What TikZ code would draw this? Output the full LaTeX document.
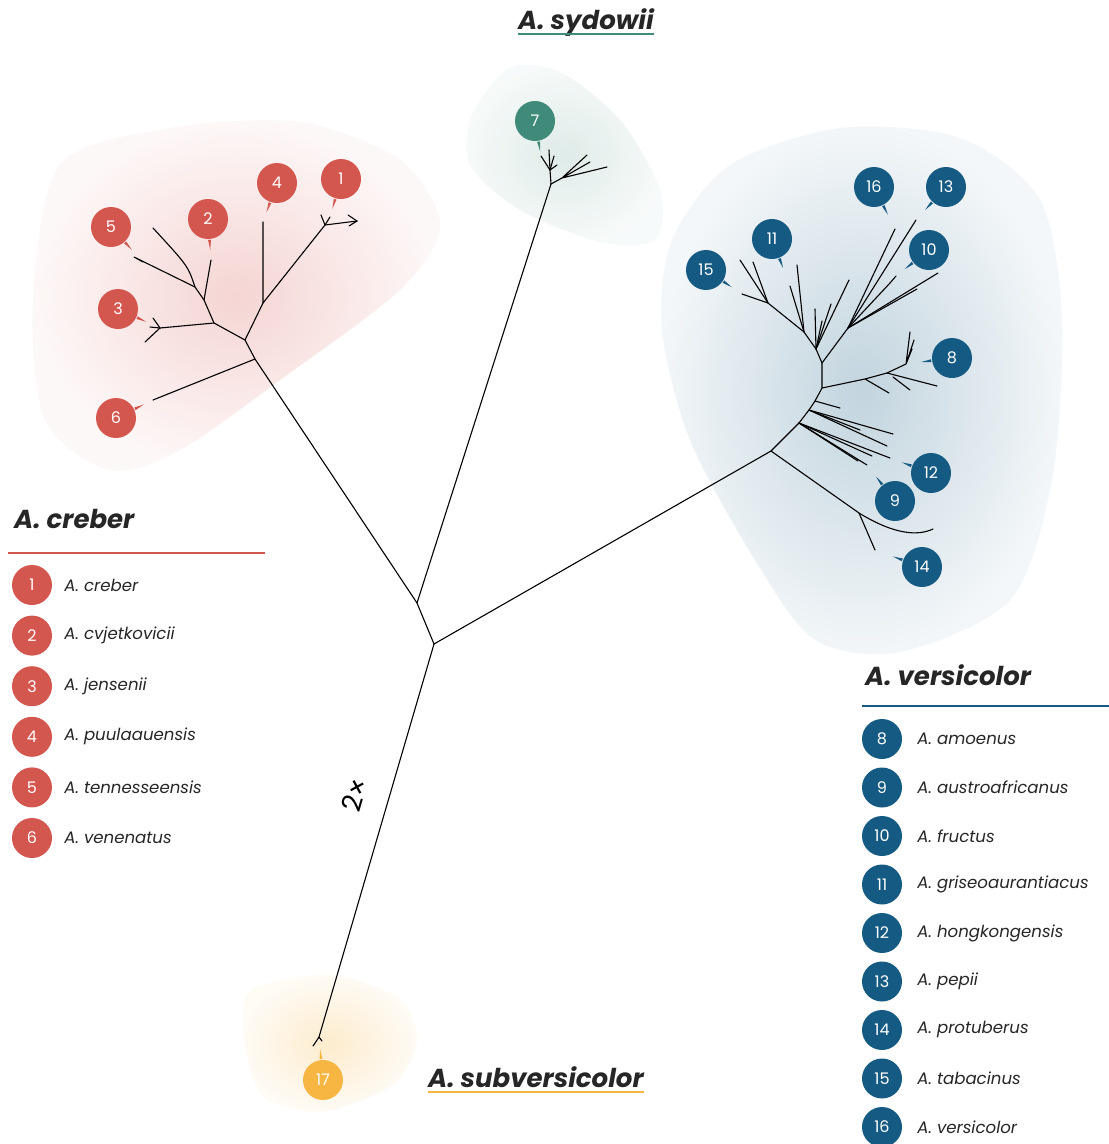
\documentclass[tikz,border=0pt]{standalone}
\usepackage{fontspec}
\setmainfont{Poppins}
\usetikzlibrary{shapes,arrows,positioning,calc}
\definecolor{crebred}{HTML}{D4574F}
\definecolor{sydgreen}{HTML}{3F8A78}
\definecolor{versblue}{HTML}{155A82}
\definecolor{subyellow}{HTML}{F7B541}
\definecolor{textgray}{HTML}{262626}
\tikzstyle{taxon} = [circle, text=white, minimum size=40pt, inner sep=0pt,
    font=\fontsize{16}{16}\selectfont]
\tikzstyle{legtext} = [text=textgray, inner sep=0pt,
    font=\fontsize{16.6}{17}\selectfont\itshape]
\tikzstyle{title} = [text=textgray, inner sep=0pt, anchor=base west,
    font=\fontsize{26}{26}\selectfont\bfseries\itshape]
\tikzstyle{branch} = [draw, line width=1.1pt, line cap=round, line join=round]
\tikzstyle{rule} = [draw, line width=2.2pt]
\newcommand{\leaftick}[3]{\fill [#3] ($(#1)!21pt!-4:(#2)$) -- ($(#1)!21pt!4:(#2)$)
    -- ($(#1)!31pt!(#2)$) -- cycle;}

\begin{document}
\begin{tikzpicture}[x=1pt, y=-1pt, node distance=3cm]
  \useasboundingbox [fill=white] (0,0) rectangle (1109,1144);
  % clade backgrounds
  \shade [inner color=crebred!25, outer color=crebred!4] plot [smooth cycle] coordinates
    {(60,165) (170,128) (300,122) (400,160) (440,225) (400,290) (280,380)
     (180,450) (110,470) (45,420) (33,300)};
  \shade [inner color=sydgreen!17, outer color=sydgreen!4] plot [smooth cycle] coordinates
    {(472,115) (510,68) (560,72) (620,120) (660,190) (655,240) (600,242)
     (520,210) (470,165)};
  \shade [inner color=versblue!26, outer color=versblue!5] plot [smooth cycle] coordinates
    {(672,240) (730,165) (840,128) (960,138) (1040,200) (1062,320) (1052,480)
     (1010,600) (900,652) (815,640) (755,560) (690,440) (662,330)};
  \shade [inner color=subyellow!26, outer color=subyellow!5] plot [smooth cycle] coordinates
    {(252,990) (330,975) (398,998) (417,1040) (392,1085) (320,1112) (262,1095)
     (244,1035)};

  % main tree
  \coordinate (root) at (434,644);
  \coordinate (mid) at (417,603);
  \coordinate (gr_base) at (551,184);
  \coordinate (rd_base) at (245,340);
  \coordinate (bl_base) at (771,451);
  \coordinate (ye_tip) at (319,1037);
  \coordinate (ye_a) at (313,1046);
  \coordinate (ye_b) at (322,1041);
  \coordinate (r6_fork) at (255,359);
  \path [branch] (root) -- (mid) -- (gr_base);
  \path [branch] (mid) -- (r6_fork) -- (rd_base);
  \path [branch] (root) -- (bl_base);
  \path [branch] (root) -- (ye_tip) -- (ye_a);
  \path [branch] (ye_tip) -- (ye_b);

  % A. creber subtree
  \coordinate (r6) at (153,400);
  \coordinate (r_a) at (214,323);
  \coordinate (r_b) at (263,303);
  \coordinate (r4) at (263,222);
  \coordinate (r1_fork) at (325,225);
  \coordinate (r1) at (357,221);
  \coordinate (r1_a) at (321,215);
  \coordinate (r1_b) at (348,215);
  \coordinate (r1_c) at (349,226);
  \coordinate (r1_d) at (330,217);
  \coordinate (r3) at (160,328);
  \coordinate (r3_a) at (145,342);
  \coordinate (r3_b) at (153,318);
  \coordinate (r3_c) at (150,327);
  \coordinate (r_c) at (204,300);
  \coordinate (r2) at (211,260);
  \coordinate (r_d) at (195,287);
  \coordinate (r5) at (134,257);
  \coordinate (r5_a) at (143,262);
  \coordinate (r_e) at (188,266);
  \coordinate (r_f) at (153,228);
  \path [branch] (r6_fork) -- (r6);
  \path [branch] (rd_base) -- (r_a) -- (r3) -- (r3_a);
  \path [branch] (r3) edge (r3_b) edge (r3_c);
  \path [branch] (rd_base) -- (r_b) -- (r4);
  \path [branch] (r_b) -- (r1_fork) -- (r1);
  \path [branch] (r1_fork) edge (r1_a) edge (r1_d) (r1) edge (r1_b) edge (r1_c);
  \path [branch] (r_a) -- (r_c) -- (r2);
  \path [branch] (r_c) -- (r_d) -- (r5) (r5_a) -- (r5);
  \path [branch] (r_d) .. controls (r_e) .. (r_f);

  % A. sydowii subtree
  \coordinate (g_a) at (550,170);
  \coordinate (g1) at (541,156);
  \coordinate (g2) at (549,150);
  \coordinate (g3) at (554,156);
  \coordinate (g4) at (557,165);
  \coordinate (g_b) at (562,178);
  \coordinate (g5) at (587,155);
  \coordinate (g6) at (590,162);
  \coordinate (g7) at (607,167);
  \path [branch] (gr_base) -- (g_a) -- (g1);
  \path [branch] (g_a) edge (g2) edge (g3) edge (g4);
  \path [branch] (gr_base) -- (g_b) -- (g5) (g_b) -- (g6) (g_b) -- (g7);

  % A. versicolor subtree
  \coordinate (b_a) at (799,423);
  \coordinate (b_b) at (809,410);
  \coordinate (b_c) at (815,401);
  \coordinate (b_d) at (822,388);
  \coordinate (b9) at (867,465);
  \coordinate (b_a1) at (872,456);
  \coordinate (b12) at (890,458);
  \coordinate (b_a2) at (858,461);
  \coordinate (b_b1) at (893,434);
  \coordinate (b_b2) at (887,446);
  \coordinate (b_b3) at (860,430);
  \coordinate (b_c1) at (840,408);
  \coordinate (b_e) at (859,513);
  \coordinate (b14) at (875,550);
  \coordinate (b_e1) at (933,529);
  \coordinate (b_g) at (887,373);
  \coordinate (b_g1) at (937,386);
  \coordinate (b_g2) at (893,377);
  \coordinate (b_g3) at (910,390);
  \coordinate (b_g4) at (865,379);
  \coordinate (b_g5) at (889,393);
  \coordinate (b8) at (906,364);
  \coordinate (b8_a) at (910,332);
  \coordinate (b8_b) at (914,340);
  \coordinate (b8_c) at (912,349);
  \coordinate (b_f) at (822,363);
  \coordinate (b_h) at (816,349);
  \coordinate (b_i) at (804,332);
  \coordinate (b_j) at (768,303);
  \coordinate (b_j1) at (740,260);
  \coordinate (b_j2) at (753,262);
  \coordinate (b15) at (742,294);
  \coordinate (b11) at (797,265);
  \coordinate (b_i1) at (790,286);
  \coordinate (b_h1) at (815,309);
  \coordinate (b_h2) at (822,321);
  \coordinate (b_h3) at (831,304);
  \coordinate (b_h4) at (849,280);
  \coordinate (b_k) at (848,328);
  \coordinate (b16) at (895,229);
  \coordinate (b13) at (916,220);
  \coordinate (b10) at (890,283);
  \coordinate (b10_a) at (896,276);
  \coordinate (b_k1) at (938,273);
  \coordinate (b_k2) at (917,289);
  \path [branch] (bl_base) -- (b_a) -- (b_b) -- (b_c) -- (b_d) -- (b_f) -- (b_h) -- (b_i) -- (b_j);
  \path [branch] (b_a) edge (b9) edge (b_a1) edge (b12) edge (b_a2);
  \path [branch] (b_b) edge (b_b1) edge (b_b2) edge (b_b3);
  \path [branch] (b_c) -- (b_c1);
  \path [branch] (bl_base) -- (b_e) -- (b14);
  \path [branch] (b_e) .. controls (895,535) and (918,536) .. (b_e1);
  \path [branch] (b_d) -- (b_g4) -- (b_g) -- (b_g1) (b_g4) -- (b_g5) (b_g2) -- (b_g3);
  \path [branch] (b_g) -- (b8) -- (b8_a) (b8) -- (b8_b) (b8) -- (b8_c);
  \path [branch] (b_j) edge (b_j1) edge (b_j2) edge (b15);
  \path [branch] (b_i) edge (b11) edge (b_i1);
  \path [branch] (b_h) edge (b_h1) edge (b_h2) edge (b_h3) edge (b_h4);
  \path [branch] (b_f) -- (b_k);
  \path [branch] (b_k) edge (b16) edge (b13) edge (b10) edge (b_k1) edge (b_k2) (b10) -- (b10_a);

  % taxon circles
  \node [taxon, fill=crebred] (t1) at (341,179) {1};
  \node [taxon, fill=crebred] (t2) at (208,219) {2};
  \node [taxon, fill=crebred] (t3) at (118,309) {3};
  \node [taxon, fill=crebred] (t4) at (277,183) {4};
  \node [taxon, fill=crebred] (t5) at (111,227) {5};
  \node [taxon, fill=crebred] (t6) at (116,418) {6};
  \node [taxon, fill=sydgreen] (t7) at (535,121) {7};
  \node [taxon, fill=versblue] (t8) at (952,358) {8};
  \node [taxon, fill=versblue] (t9) at (895,501) {9};
  \node [taxon, fill=versblue] (t10) at (929,250) {10};
  \node [taxon, fill=versblue] (t11) at (772,239) {11};
  \node [taxon, fill=versblue] (t12) at (931,473) {12};
  \node [taxon, fill=versblue] (t13) at (946,187) {13};
  \node [taxon, fill=versblue] (t14) at (922,567) {14};
  \node [taxon, fill=versblue] (t15) at (706,270) {15};
  \node [taxon, fill=versblue] (t16) at (874,187) {16};
  \node [taxon, fill=subyellow] (t17) at (323,1080) {17};
  \leaftick{t1}{r1_d}{crebred}
  \leaftick{t2}{r2}{crebred}
  \leaftick{t3}{r3}{crebred}
  \leaftick{t4}{r4}{crebred}
  \leaftick{t5}{r5_a}{crebred}
  \leaftick{t6}{r6}{crebred}
  \leaftick{t7}{g1}{sydgreen}
  \leaftick{t8}{b8}{versblue}
  \leaftick{t9}{b9}{versblue}
  \leaftick{t10}{b10_a}{versblue}
  \leaftick{t11}{b_i1}{versblue}
  \leaftick{t12}{b12}{versblue}
  \leaftick{t13}{b13}{versblue}
  \leaftick{t14}{b14}{versblue}
  \leaftick{t15}{b15}{versblue}
  \leaftick{t16}{b16}{versblue}
  \leaftick{t17}{ye_tip}{subyellow}

  % scale label
  \node [rotate=73.7, text=black, inner sep=0pt, font=\fontsize{27}{27}\selectfont] (scale_label) at (355,795) {2×};

  % clade titles
  \node [title] (sydowii_title) at (518,29) {A. sydowii};
  \path [rule, sydgreen] ([yshift=-5pt]sydowii_title.base west) -- ([yshift=-5pt]sydowii_title.base east);
  \node [title] (subvers_title) at (428,1087) {A. subversicolor};
  \path [rule, subyellow] ([yshift=-5pt]subvers_title.base west) -- ([yshift=-5pt]subvers_title.base east);
  \node [title] (creber_title) at (14,528) {A. creber};
  \coordinate (creber_l) at (8,553);
  \coordinate (creber_r) at (265,553);
  \path [rule, crebred] (creber_l) -- (creber_r);
  \node [title] (vers_title) at (865,685) {A. versicolor};
  \coordinate (vers_l) at (862,706);
  \coordinate (vers_r) at (1109,706);
  \path [rule, versblue] (vers_l) -- (vers_r);

  % A. creber legend
  \node [taxon, fill=crebred] (leg1) at (32,585) {1};
  \node [taxon, fill=crebred, below of=leg1, node distance=50.6pt] (leg2) {2};
  \node [taxon, fill=crebred, below of=leg2, node distance=50.6pt] (leg3) {3};
  \node [taxon, fill=crebred, below of=leg3, node distance=50.6pt] (leg4) {4};
  \node [taxon, fill=crebred, below of=leg4, node distance=50.6pt] (leg5) {5};
  \node [taxon, fill=crebred, below of=leg5, node distance=50.6pt] (leg6) {6};
  \node [legtext, right=12pt of leg1] {A. creber};
  \node [legtext, right=12pt of leg2] {A. cvjetkovicii};
  \node [legtext, right=12pt of leg3] {A. jensenii};
  \node [legtext, right=12pt of leg4] {A. puulaauensis};
  \node [legtext, right=12pt of leg5] {A. tennesseensis};
  \node [legtext, right=12pt of leg6] {A. venenatus};

  % A. versicolor legend
  \node [taxon, fill=versblue] (leg8) at (882,739) {8};
  \node [taxon, fill=versblue, below of=leg8, node distance=48.5pt] (leg9) {9};
  \node [taxon, fill=versblue, below of=leg9, node distance=48.5pt] (leg10) {10};
  \node [taxon, fill=versblue, below of=leg10, node distance=48.5pt] (leg11) {11};
  \node [taxon, fill=versblue, below of=leg11, node distance=48.5pt] (leg12) {12};
  \node [taxon, fill=versblue, below of=leg12, node distance=48.5pt] (leg13) {13};
  \node [taxon, fill=versblue, below of=leg13, node distance=48.5pt] (leg14) {14};
  \node [taxon, fill=versblue, below of=leg14, node distance=48.5pt] (leg15) {15};
  \node [taxon, fill=versblue, below of=leg15, node distance=48.5pt] (leg16) {16};
  \node [legtext, right=15pt of leg8] {A. amoenus};
  \node [legtext, right=15pt of leg9] {A. austroafricanus};
  \node [legtext, right=15pt of leg10] {A. fructus};
  \node [legtext, right=15pt of leg11] {A. griseoaurantiacus};
  \node [legtext, right=15pt of leg12] {A. hongkongensis};
  \node [legtext, right=15pt of leg13] {A. pepii};
  \node [legtext, right=15pt of leg14] {A. protuberus};
  \node [legtext, right=15pt of leg15] {A. tabacinus};
  \node [legtext, right=15pt of leg16] {A. versicolor};
\end{tikzpicture}
\end{document}
